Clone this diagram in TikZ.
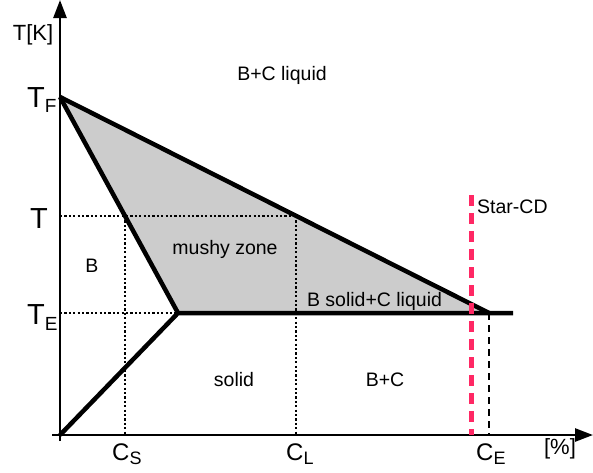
\documentclass[tikz,border=0pt]{standalone}
\usepackage{fontspec}
\setmainfont{Liberation Sans}
\usetikzlibrary{arrows.meta}
\newcommand{\labT}[2]{\fontsize{29}{31}\selectfont T\raisebox{-#2pt}{\fontsize{19}{19}\selectfont #1}}
\newcommand{\labC}[1]{\fontsize{24}{26}\selectfont C\raisebox{-4pt}{\fontsize{18}{18}\selectfont #1}}
\tikzset{
  thickline/.style={line width=4.5pt, line join=miter},
  axisline/.style={line width=2.6pt, -{Triangle[length=18pt,width=13pt]}},
  dotline/.style={line width=2.4pt, dash pattern=on 2.2pt off 2.2pt},
  dashline/.style={line width=2.4pt, dash pattern=on 7pt off 5pt},
  redline/.style={line width=5pt, draw={rgb,255:red,255;green,40;blue,100}, dash pattern=on 11pt off 7pt},
  txt/.style={font=\fontsize{19.5}{22}\selectfont, inner sep=0pt},
  big/.style={inner sep=0pt, anchor=base west},
}
\begin{document}
\begin{tikzpicture}[x=1pt,y=-1pt]
\useasboundingbox (0,0) rectangle (593,472);
% key points
\coordinate (O) at (60,435);
\coordinate (TF) at (60,97);
\coordinate (TE) at (60,313);
\coordinate (TT) at (60,216);
\coordinate (E1) at (178,313);
\coordinate (E2) at (489,313);
\coordinate (E3) at (513,313);
\coordinate (S) at (125,216);
\coordinate (L) at (296,216);
\coordinate (CSb) at (125,435);
\coordinate (CLb) at (296,435);
\coordinate (CEb) at (489,435);
\coordinate (R1) at (471,195);
\coordinate (R2) at (471,435);
\coordinate (Ytop) at (60,0);
\coordinate (Ybot) at (60,441);
\coordinate (Xl) at (52,435);
\coordinate (Xr) at (593,435);
% mushy zone
\fill[gray!40] (TF) -- (E2) -- (E1) -- cycle;
% dotted lines
\draw[dotline] (TT) -- (L);
\draw[dotline] (S) -- (CSb);
\draw[dotline] (L) -- (CLb);
\draw[dotline] (TE) -- (E1);
\draw[dashline] (E2) -- (CEb);
% axes
\draw[axisline] (Ybot) -- (Ytop);
\draw[axisline] (Xl) -- (Xr);
% phase lines
\draw[thickline] (TF) -- (E2);
\draw[thickline] (TF) -- (E1);
\draw[thickline] (O) -- (E1) -- (E3);
% Star-CD line
\draw[redline] (R1) -- (R2);
% labels
\node[txt] (tk) at (33,35) {\fontsize{22}{24}\selectfont T[K]};
\node[txt] (pc) at (560,449) {\fontsize{22}{24}\selectfont [\%]};
\node[txt] (bcl) at (282,75) {B+C liquid};
\node[txt] (mz) at (225,249) {mushy zone};
\node[txt] (b) at (92,266) {B};
\node[txt] (bscl) at (374.5,301) {B solid+C liquid};
\node[txt] (sol) at (234,380) {solid};
\node[txt] (bc) at (385,380) {B+C};
\node[txt, anchor=west] (scd) at (477,207) {Star-CD};
\node[big] (lTF) at (27,107) {\labT{F}{5}};
\node[big] (lT) at (30,228) {\fontsize{29}{31}\selectfont T};
\node[big] (lTE) at (27,324) {\labT{E}{6}};
\node[big] (lCS) at (112,460) {\labC{S}};
\node[big] (lCL) at (286,460) {\labC{L}};
\node[big] (lCE) at (476,460) {\labC{E}};
\end{tikzpicture}
\end{document}
